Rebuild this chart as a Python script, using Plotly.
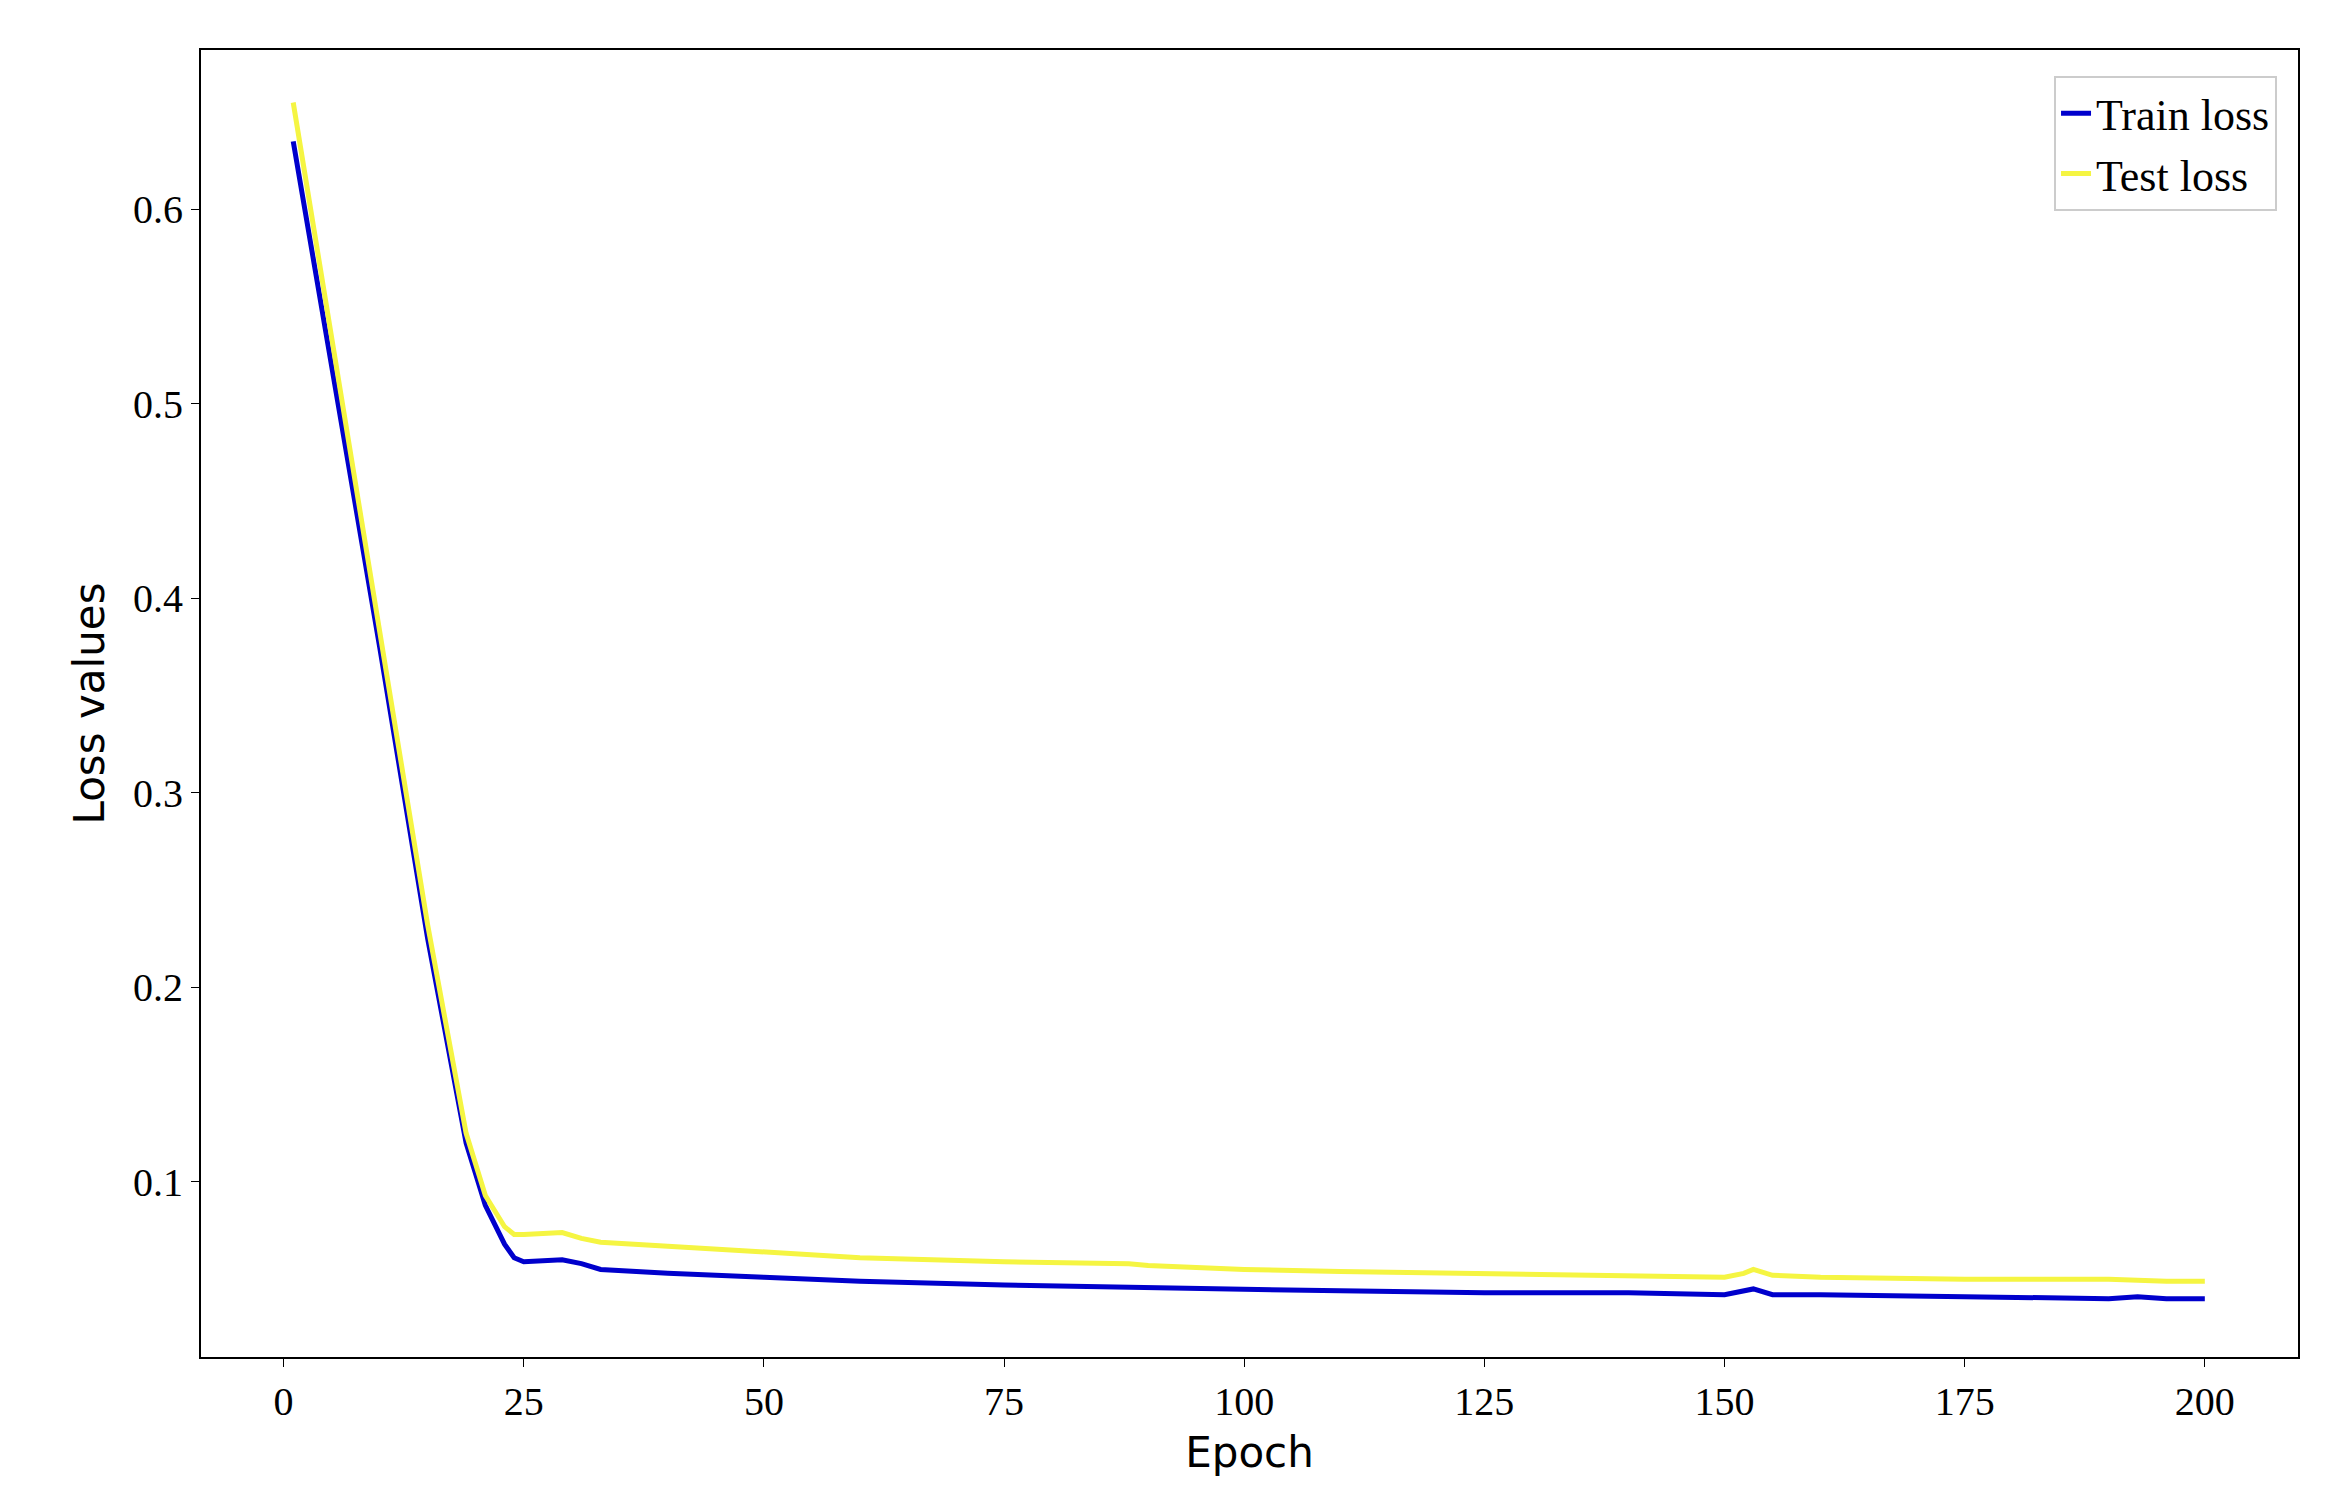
import plotly.graph_objects as go

# Readings at key epochs
train_epochs = [1, 5, 10, 15, 19, 21, 23, 24, 25, 29, 31, 33, 40, 50, 60, 75, 85, 90, 95, 100, 110, 125, 140, 150, 152, 153, 155, 160, 175, 190, 193, 196, 200]
train_loss = [0.635, 0.52, 0.375, 0.225, 0.12, 0.088, 0.068, 0.061, 0.059, 0.060, 0.058, 0.055, 0.053, 0.051, 0.049, 0.047, 0.046, 0.046, 0.045, 0.045, 0.044, 0.043, 0.043, 0.042, 0.044, 0.045, 0.042, 0.042, 0.041, 0.040, 0.041, 0.040, 0.040]

test_epochs = [1, 5, 10, 15, 19, 21, 23, 24, 25, 29, 31, 33, 40, 50, 60, 75, 88, 90, 100, 110, 125, 140, 150, 152, 153, 155, 160, 175, 190, 196, 200]
test_loss = [0.655, 0.535, 0.385, 0.232, 0.125, 0.093, 0.077, 0.073, 0.073, 0.074, 0.071, 0.069, 0.067, 0.064, 0.061, 0.059, 0.058, 0.057, 0.055, 0.054, 0.053, 0.052, 0.051, 0.053, 0.055, 0.052, 0.051, 0.050, 0.050, 0.049, 0.049]

x_ticks = [0, 25, 50, 75, 100, 125, 150, 175, 200]
y_ticks = [0.1, 0.2, 0.3, 0.4, 0.5, 0.6]

fig = go.Figure()
fig.add_trace(go.Scatter(x=train_epochs, y=train_loss, mode="lines", name="Train loss",
                         line=dict(color="#0000cc", width=5)))
fig.add_trace(go.Scatter(x=test_epochs, y=test_loss, mode="lines", name="Test loss",
                         line=dict(color="#f5f542", width=5)))

axis_common = dict(showgrid=False, zeroline=False, showline=True, linecolor="black", linewidth=2,
                   mirror=True, ticks="outside", ticklen=8, tickcolor="black",
                   tickfont=dict(family="Liberation Serif", size=40, color="black"))

fig.update_xaxes(range=[-8.6, 209.7], tickvals=x_ticks,
                 title=dict(text="Epoch", font=dict(family="DejaVu Sans", size=42, color="black")),
                 **axis_common)
fig.update_yaxes(range=[0.010, 0.682], tickvals=y_ticks, ticktext=[str(v) for v in y_ticks],
                 title=dict(text="Loss values", font=dict(family="DejaVu Sans", size=42, color="black")),
                 **axis_common)

fig.update_layout(
    width=2335, height=1506,
    margin=dict(l=193, r=45, t=42, b=157),
    plot_bgcolor="white", paper_bgcolor="white",
    legend=dict(x=0.99, y=0.98, xanchor="right", yanchor="top",
                bordercolor="#cccccc", borderwidth=2, bgcolor="white",
                font=dict(family="Liberation Serif", size=44, color="black")),
)

fig.write_html("out.html")
